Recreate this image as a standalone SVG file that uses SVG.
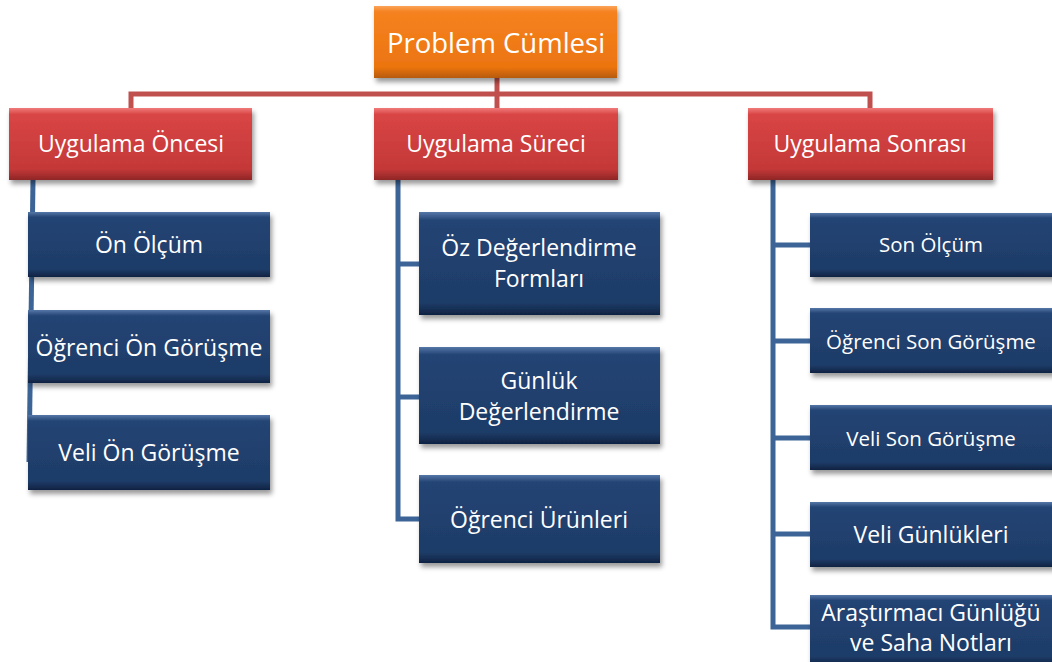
<svg xmlns="http://www.w3.org/2000/svg" width="1052" height="662" viewBox="0 0 1052 662">
<defs>
<linearGradient id="gO" x1="0" y1="0" x2="0" y2="1">
<stop offset="0" stop-color="#FBA45A"/><stop offset="0.08" stop-color="#F58220"/><stop offset="0.85" stop-color="#EC7410"/><stop offset="1" stop-color="#B55A0C"/>
</linearGradient>
<linearGradient id="gR" x1="0" y1="0" x2="0" y2="1">
<stop offset="0" stop-color="#F07B7A"/><stop offset="0.09" stop-color="#D94545"/><stop offset="0.85" stop-color="#C43838"/><stop offset="1" stop-color="#8E2626"/>
</linearGradient>
<linearGradient id="gB" x1="0" y1="0" x2="0" y2="1">
<stop offset="0" stop-color="#5577A8"/><stop offset="0.08" stop-color="#234474"/><stop offset="0.88" stop-color="#1E3C68"/><stop offset="1" stop-color="#0F2342"/>
</linearGradient>
<filter id="sh" x="-10%" y="-10%" width="125%" height="135%">
<feDropShadow dx="2" dy="4" stdDeviation="2.5" flood-color="#000" flood-opacity="0.4"/>
</filter>
<style>
.o{fill:url(#gO);filter:url(#sh)}
.r{fill:url(#gR);filter:url(#sh)}
.b{fill:url(#gB);filter:url(#sh)}
text{font-family:"Open Sans","Liberation Sans",sans-serif;fill:#fff;text-anchor:middle}
.t0{font-size:27.5px}
.t1{font-size:23px}
.t2{font-size:23px}
.t3{font-size:20.5px}
.lr{fill:none;stroke:#C0504D;stroke-width:5}
.lb{fill:none;stroke:#3C6497;stroke-width:5}
</style>
</defs>
<g id="connectors">
<path class="lr" d="M497 78 V94"/>
<path class="lr" d="M131 108 V94 H870 V108"/>
<path class="lr" d="M497 94 V108"/>
<path class="lb" d="M33 180 L29 462"/>
<path class="lb" d="M398 180 V519 H419"/>
<path class="lb" d="M398 264 H419"/>
<path class="lb" d="M398 397 H419"/>
<path class="lb" d="M773 180 V627 H810"/>
<path class="lb" d="M773 245 H810"/>
<path class="lb" d="M773 341 H810"/>
<path class="lb" d="M773 438 H810"/>
<path class="lb" d="M773 534 H810"/>
</g>
<g id="n-problem"><rect class="o" x="374" y="6" width="243" height="72"/><text class="t0" x="496" y="53">Problem Cümlesi</text></g>
<g id="n-oncesi"><rect class="r" x="9" y="108" width="243" height="72"/><text class="t1" x="131" y="152">Uygulama Öncesi</text></g>
<g id="n-sureci"><rect class="r" x="374" y="108" width="244" height="72"/><text class="t1" x="496" y="152">Uygulama Süreci</text></g>
<g id="n-sonrasi"><rect class="r" x="748" y="108" width="245" height="72"/><text class="t1" x="870" y="152">Uygulama Sonrası</text></g>
<g id="n-onolcum"><rect class="b" x="28" y="212" width="242" height="65"/><text class="t1" x="149" y="253">Ön Ölçüm</text></g>
<g id="n-ogrencion"><rect class="b" x="28" y="310" width="242" height="73"/><text class="t1" x="149" y="356">Öğrenci Ön Görüşme</text></g>
<g id="n-velion"><rect class="b" x="28" y="415" width="242" height="75"/><text class="t1" x="149" y="461">Veli Ön Görüşme</text></g>
<g id="n-oz"><rect class="b" x="419" y="212" width="241" height="103"/><text class="t1" x="539" y="256">Öz Değerlendirme</text><text class="t1" x="539" y="287">Formları</text></g>
<g id="n-gunluk"><rect class="b" x="419" y="347" width="241" height="97"/><text class="t1" x="539" y="389">Günlük</text><text class="t1" x="539" y="420">Değerlendirme</text></g>
<g id="n-urun"><rect class="b" x="419" y="475" width="241" height="88"/><text class="t1" x="539" y="528">Öğrenci Ürünleri</text></g>
<g id="n-sonolcum"><rect class="b" x="810" y="213" width="245" height="64"/><text class="t3" x="931" y="252">Son Ölçüm</text></g>
<g id="n-ogrencison"><rect class="b" x="810" y="308" width="245" height="65"/><text class="t3" x="931" y="349">Öğrenci Son Görüşme</text></g>
<g id="n-velison"><rect class="b" x="810" y="405" width="245" height="65"/><text class="t3" x="931" y="446">Veli Son Görüşme</text></g>
<g id="n-veligunluk"><rect class="b" x="810" y="502" width="245" height="65"/><text class="t2" x="931" y="543">Veli Günlükleri</text></g>
<g id="n-arastirmaci"><rect class="b" x="810" y="595" width="245" height="70"/><text class="t2" x="931" y="621">Araştırmacı Günlüğü</text><text class="t2" x="931" y="651">ve Saha Notları</text></g>
</svg>
